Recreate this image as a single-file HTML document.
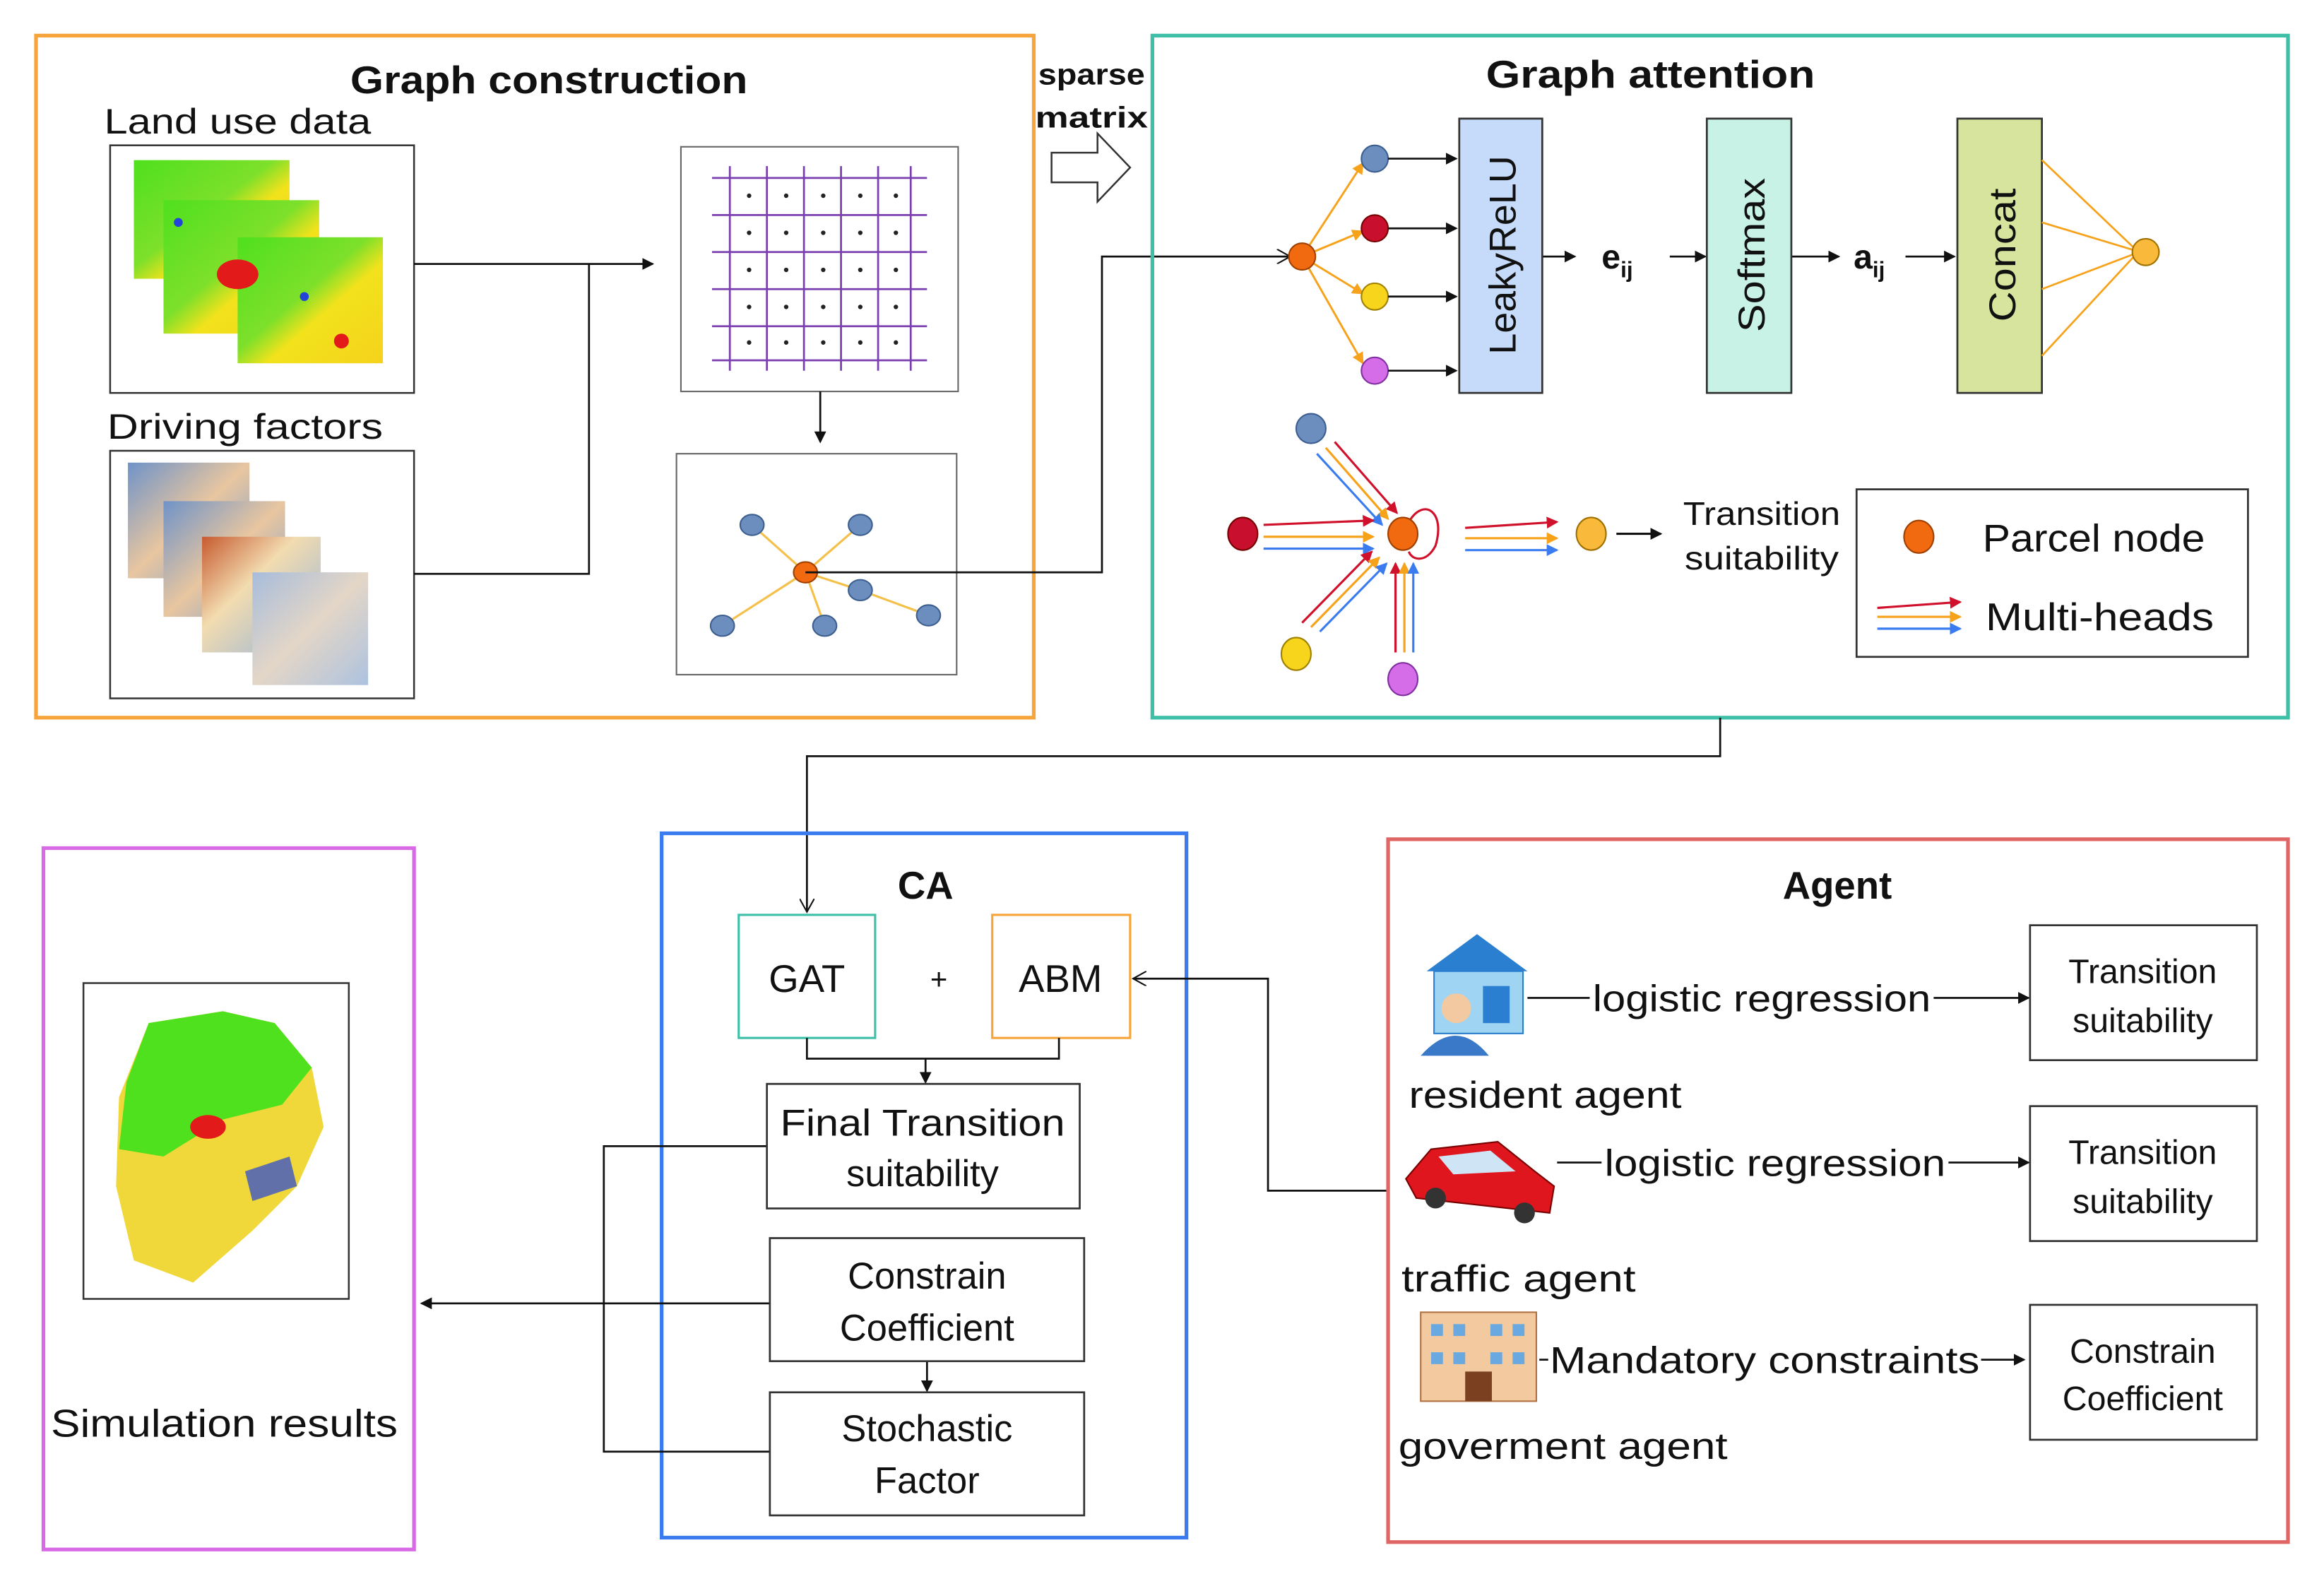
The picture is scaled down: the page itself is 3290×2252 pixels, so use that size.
<!DOCTYPE html>
<html><head><meta charset="utf-8"><style>
html,body{margin:0;padding:0;background:#fff;}
svg{display:block;}
text{font-family:"Liberation Sans","DejaVu Sans",sans-serif;fill:#111;}
</style></head><body>
<svg width="3290" height="2252" viewBox="0 0 1567 1073" xmlns="http://www.w3.org/2000/svg">
<defs>
<marker id="a" markerWidth="8" markerHeight="8" refX="7" refY="4" orient="auto" markerUnits="userSpaceOnUse"><path d="M0,0 L8,4 L0,8 z" fill="#111"/></marker>
<marker id="ao" markerWidth="10" markerHeight="10" refX="9" refY="5" orient="auto" markerUnits="userSpaceOnUse"><path d="M0,0 L9,5 L0,10" fill="none" stroke="#111" stroke-width="1"/></marker>
<marker id="ar" markerWidth="8" markerHeight="8" refX="7" refY="4" orient="auto" markerUnits="userSpaceOnUse"><path d="M0,0 L8,4 L0,8 z" fill="#d0112b"/></marker>
<marker id="ay" markerWidth="8" markerHeight="8" refX="7" refY="4" orient="auto" markerUnits="userSpaceOnUse"><path d="M0,0 L8,4 L0,8 z" fill="#f7a21b"/></marker>
<marker id="ab" markerWidth="8" markerHeight="8" refX="7" refY="4" orient="auto" markerUnits="userSpaceOnUse"><path d="M0,0 L8,4 L0,8 z" fill="#3a7cf0"/></marker>
<linearGradient id="lu" x1="0" y1="0" x2="1" y2="1"><stop offset="0" stop-color="#4fe01e"/><stop offset="0.45" stop-color="#7de02a"/><stop offset="0.6" stop-color="#f2e21c"/><stop offset="1" stop-color="#f5d21c"/></linearGradient>
<linearGradient id="df" x1="0" y1="0" x2="1" y2="1"><stop offset="0" stop-color="#6f93c8"/><stop offset="0.5" stop-color="#e8c6a0"/><stop offset="1" stop-color="#7a9ed0"/></linearGradient>
<linearGradient id="df2" x1="0" y1="0" x2="1" y2="1"><stop offset="0" stop-color="#c85a30"/><stop offset="0.4" stop-color="#f2dcb0"/><stop offset="1" stop-color="#8fb0dc"/></linearGradient>
</defs>

<!-- Graph construction -->
<rect x="24" y="24" width="673" height="460" fill="none" stroke="#f7a43a" stroke-width="2.5"/>
<text x="370" y="63" font-size="26" font-weight="bold" text-anchor="middle" textLength="268" lengthAdjust="spacingAndGlyphs">Graph construction</text>
<text x="70" y="90" font-size="24" textLength="180" lengthAdjust="spacingAndGlyphs">Land use data</text>
<rect x="74" y="98" width="205" height="167" fill="#fff" stroke="#333" stroke-width="1.2"/>
<rect x="90" y="108" width="105" height="80" fill="url(#lu)"/>
<rect x="110" y="135" width="105" height="90" fill="url(#lu)"/>
<rect x="160" y="160" width="98" height="85" fill="url(#lu)"/>
<ellipse cx="160" cy="185" rx="14" ry="10" fill="#e21a1a"/>
<circle cx="230" cy="230" r="5" fill="#e21a1a"/><circle cx="205" cy="200" r="3" fill="#2344d8"/><circle cx="120" cy="150" r="3" fill="#2344d8"/>
<text x="72" y="296" font-size="24" textLength="186" lengthAdjust="spacingAndGlyphs">Driving factors</text>
<rect x="74" y="304" width="205" height="167" fill="#fff" stroke="#333" stroke-width="1.2"/>
<rect x="86" y="312" width="82" height="78" fill="url(#df)"/>
<rect x="110" y="338" width="82" height="78" fill="url(#df)"/>
<rect x="136" y="362" width="80" height="78" fill="url(#df2)"/>
<rect x="170" y="386" width="78" height="76" fill="#dfe6ee"/>
<rect x="170" y="386" width="78" height="76" fill="url(#df)" opacity="0.5"/>
<!-- grid -->
<rect x="459" y="99" width="187" height="165" fill="#fff" stroke="#666" stroke-width="1"/>
<g stroke="#7b3fb0" stroke-width="1.3">
<line x1="480" y1="120" x2="625" y2="120"/><line x1="480" y1="145" x2="625" y2="145"/><line x1="480" y1="170" x2="625" y2="170"/><line x1="480" y1="195" x2="625" y2="195"/><line x1="480" y1="220" x2="625" y2="220"/><line x1="480" y1="243" x2="625" y2="243"/>
<line x1="492" y1="112" x2="492" y2="250"/><line x1="517" y1="112" x2="517" y2="250"/><line x1="542" y1="112" x2="542" y2="250"/><line x1="567" y1="112" x2="567" y2="250"/><line x1="592" y1="112" x2="592" y2="250"/><line x1="614" y1="112" x2="614" y2="250"/>
</g>
<g fill="#222"><circle cx="505" cy="132" r="1.5"/><circle cx="530" cy="132" r="1.5"/><circle cx="555" cy="132" r="1.5"/><circle cx="580" cy="132" r="1.5"/><circle cx="604" cy="132" r="1.5"/>
<circle cx="505" cy="157" r="1.5"/><circle cx="530" cy="157" r="1.5"/><circle cx="555" cy="157" r="1.5"/><circle cx="580" cy="157" r="1.5"/><circle cx="604" cy="157" r="1.5"/>
<circle cx="505" cy="182" r="1.5"/><circle cx="530" cy="182" r="1.5"/><circle cx="555" cy="182" r="1.5"/><circle cx="580" cy="182" r="1.5"/><circle cx="604" cy="182" r="1.5"/>
<circle cx="505" cy="207" r="1.5"/><circle cx="530" cy="207" r="1.5"/><circle cx="555" cy="207" r="1.5"/><circle cx="580" cy="207" r="1.5"/><circle cx="604" cy="207" r="1.5"/>
<circle cx="505" cy="231" r="1.5"/><circle cx="530" cy="231" r="1.5"/><circle cx="555" cy="231" r="1.5"/><circle cx="580" cy="231" r="1.5"/><circle cx="604" cy="231" r="1.5"/></g>
<!-- graph -->
<rect x="456" y="306" width="189" height="149" fill="#fff" stroke="#666" stroke-width="1"/>
<g stroke="#f5c04a" stroke-width="1.5">
<line x1="543" y1="386" x2="507" y2="354"/><line x1="543" y1="386" x2="580" y2="354"/><line x1="543" y1="386" x2="487" y2="422"/><line x1="543" y1="386" x2="556" y2="422"/><line x1="543" y1="386" x2="580" y2="398"/><line x1="580" y1="398" x2="626" y2="415"/></g>
<g fill="#6c8ebf" stroke="#3d5f90" stroke-width="1"><ellipse cx="507" cy="354" rx="8" ry="7"/><ellipse cx="580" cy="354" rx="8" ry="7"/><ellipse cx="487" cy="422" rx="8" ry="7"/><ellipse cx="556" cy="422" rx="8" ry="7"/><ellipse cx="580" cy="398" rx="8" ry="7"/><ellipse cx="626" cy="415" rx="8" ry="7"/></g>
<ellipse cx="543" cy="386" rx="8" ry="7" fill="#f26a10" stroke="#a04000"/>
<!-- connectors gc -->
<g stroke="#111" stroke-width="1.3" fill="none">
<line x1="279" y1="178" x2="440" y2="178" marker-end="url(#a)"/>
<polyline points="279,387 397,387 397,178"/>
<line x1="553" y1="264" x2="553" y2="298" marker-end="url(#a)"/>
<polyline points="543,386 743,386 743,173 870,173" marker-end="url(#ao)"/>
</g>
<text x="700" y="57" font-size="20" font-weight="bold" textLength="72" lengthAdjust="spacingAndGlyphs">sparse</text>
<text x="698" y="86" font-size="20" font-weight="bold" textLength="76" lengthAdjust="spacingAndGlyphs">matrix</text>
<path d="M709,103 L740,103 L740,90 L762,113 L740,136 L740,123 L709,123 Z" fill="#fff" stroke="#333" stroke-width="1.2"/>

<!-- Graph attention -->
<rect x="777" y="24" width="766" height="460" fill="none" stroke="#3dbfa8" stroke-width="2.5"/>
<text x="1113" y="59" font-size="26" font-weight="bold" text-anchor="middle" textLength="222" lengthAdjust="spacingAndGlyphs">Graph attention</text>
<g stroke="#f7a21b" stroke-width="1.4" fill="none">
<line x1="878" y1="173" x2="919" y2="110" marker-end="url(#ay)"/><line x1="878" y1="173" x2="919" y2="156" marker-end="url(#ay)"/><line x1="878" y1="173" x2="919" y2="198" marker-end="url(#ay)"/><line x1="878" y1="173" x2="919" y2="245" marker-end="url(#ay)"/></g>
<ellipse cx="878" cy="173" rx="9" ry="9" fill="#f26a10" stroke="#a04000"/>
<ellipse cx="927" cy="107" rx="9" ry="9" fill="#6c8ebf" stroke="#3d5f90"/>
<ellipse cx="927" cy="154" rx="9" ry="9" fill="#c8102e" stroke="#700"/>
<ellipse cx="927" cy="200" rx="9" ry="9" fill="#f7d51c" stroke="#a08000"/>
<ellipse cx="927" cy="250" rx="9" ry="9" fill="#d66de8" stroke="#8030a0"/>
<g stroke="#111" stroke-width="1.3">
<line x1="936" y1="107" x2="982" y2="107" marker-end="url(#a)"/><line x1="936" y1="154" x2="982" y2="154" marker-end="url(#a)"/><line x1="936" y1="200" x2="982" y2="200" marker-end="url(#a)"/><line x1="936" y1="250" x2="982" y2="250" marker-end="url(#a)"/>
<line x1="1040" y1="173" x2="1062" y2="173" marker-end="url(#a)"/><line x1="1126" y1="173" x2="1150" y2="173" marker-end="url(#a)"/><line x1="1208" y1="173" x2="1240" y2="173" marker-end="url(#a)"/><line x1="1285" y1="173" x2="1318" y2="173" marker-end="url(#a)"/></g>
<rect x="984" y="80" width="56" height="185" fill="#c6dafa" stroke="#333" stroke-width="1.3"/>
<text transform="translate(1022,172) rotate(-90)" font-size="25" text-anchor="middle" textLength="134" lengthAdjust="spacingAndGlyphs">LeakyReLU</text>
<text x="1080" y="181" font-size="23" font-weight="bold">e<tspan font-size="15" dy="6">ij</tspan></text>
<rect x="1151" y="80" width="57" height="185" fill="#c9f2e6" stroke="#333" stroke-width="1.3"/>
<text transform="translate(1190,172) rotate(-90)" font-size="25" text-anchor="middle" textLength="104" lengthAdjust="spacingAndGlyphs">Softmax</text>
<text x="1250" y="181" font-size="23" font-weight="bold">a<tspan font-size="15" dy="6">ij</tspan></text>
<rect x="1320" y="80" width="57" height="185" fill="#d6e49e" stroke="#333" stroke-width="1.3"/>
<text transform="translate(1359,172) rotate(-90)" font-size="25" text-anchor="middle" textLength="90" lengthAdjust="spacingAndGlyphs">Concat</text>
<g stroke="#f7a21b" stroke-width="1.3"><line x1="1377" y1="108" x2="1440" y2="168"/><line x1="1377" y1="150" x2="1440" y2="169"/><line x1="1377" y1="195" x2="1440" y2="171"/><line x1="1377" y1="240" x2="1440" y2="172"/></g>
<ellipse cx="1447" cy="170" rx="9" ry="9" fill="#f9b93a" stroke="#a07000"/>
<!-- multihead -->
<g stroke-width="1.5" fill="none">
<line x1="900" y1="298" x2="942" y2="346" stroke="#d0112b" marker-end="url(#ar)"/><line x1="894" y1="302" x2="936" y2="350" stroke="#f7a21b" marker-end="url(#ay)"/><line x1="888" y1="306" x2="932" y2="354" stroke="#3a7cf0" marker-end="url(#ab)"/>
<line x1="852" y1="354" x2="926" y2="351" stroke="#d0112b" marker-end="url(#ar)"/><line x1="852" y1="362" x2="926" y2="362" stroke="#f7a21b" marker-end="url(#ay)"/><line x1="852" y1="370" x2="926" y2="370" stroke="#3a7cf0" marker-end="url(#ab)"/>
<line x1="878" y1="420" x2="925" y2="372" stroke="#d0112b" marker-end="url(#ar)"/><line x1="884" y1="423" x2="930" y2="376" stroke="#f7a21b" marker-end="url(#ay)"/><line x1="890" y1="426" x2="935" y2="380" stroke="#3a7cf0" marker-end="url(#ab)"/>
<line x1="941" y1="440" x2="941" y2="380" stroke="#d0112b" marker-end="url(#ar)"/><line x1="947" y1="440" x2="947" y2="380" stroke="#f7a21b" marker-end="url(#ay)"/><line x1="953" y1="440" x2="953" y2="380" stroke="#3a7cf0" marker-end="url(#ab)"/>
<line x1="988" y1="356" x2="1050" y2="352" stroke="#d0112b" marker-end="url(#ar)"/><line x1="988" y1="363" x2="1050" y2="363" stroke="#f7a21b" marker-end="url(#ay)"/><line x1="988" y1="371" x2="1050" y2="371" stroke="#3a7cf0" marker-end="url(#ab)"/>
<path d="M950,352 C960,335 975,345 968,368 C962,380 952,378 950,372" stroke="#d0112b"/>
</g>
<ellipse cx="884" cy="289" rx="10" ry="10" fill="#6c8ebf" stroke="#3d5f90"/>
<ellipse cx="838" cy="360" rx="10" ry="11" fill="#c8102e" stroke="#700"/>
<ellipse cx="946" cy="360" rx="10" ry="11" fill="#f26a10" stroke="#a04000"/>
<ellipse cx="874" cy="441" rx="10" ry="11" fill="#f7d51c" stroke="#a08000"/>
<ellipse cx="946" cy="458" rx="10" ry="11" fill="#d66de8" stroke="#8030a0"/>
<ellipse cx="1073" cy="360" rx="10" ry="11" fill="#f9b93a" stroke="#a07000"/>
<line x1="1090" y1="360" x2="1120" y2="360" stroke="#111" stroke-width="1.5" marker-end="url(#a)"/>
<text x="1188" y="354" font-size="22" text-anchor="middle" textLength="106" lengthAdjust="spacingAndGlyphs">Transition</text>
<text x="1188" y="384" font-size="22" text-anchor="middle" textLength="104" lengthAdjust="spacingAndGlyphs">suitability</text>
<rect x="1252" y="330" width="264" height="113" fill="#fff" stroke="#333" stroke-width="1.3"/>
<ellipse cx="1294" cy="362" rx="10" ry="11" fill="#f26a10" stroke="#a04000"/>
<text x="1337" y="372" font-size="26" textLength="150" lengthAdjust="spacingAndGlyphs">Parcel node</text>
<g stroke-width="1.5"><line x1="1266" y1="410" x2="1322" y2="406" stroke="#d0112b" marker-end="url(#ar)"/><line x1="1266" y1="416" x2="1322" y2="416" stroke="#f7a21b" marker-end="url(#ay)"/><line x1="1266" y1="424" x2="1322" y2="424" stroke="#3a7cf0" marker-end="url(#ab)"/></g>
<text x="1339" y="425" font-size="26" textLength="154" lengthAdjust="spacingAndGlyphs">Multi-heads</text>

<!-- GA to CA -->
<polyline points="1160,484 1160,510 544,510 544,615" fill="none" stroke="#111" stroke-width="1.3" marker-end="url(#ao)"/>

<!-- Simulation results -->
<rect x="29" y="572" width="250" height="473" fill="none" stroke="#d86ae6" stroke-width="2.5"/>
<rect x="56" y="663" width="179" height="213" fill="#fff" stroke="#333" stroke-width="1.2"/>
<path d="M100,690 L150,682 L185,690 L210,720 L218,760 L200,800 L170,830 L130,865 L90,850 L78,800 L80,740 Z" fill="#f0d83a"/>
<path d="M100,690 L150,682 L185,690 L210,720 L190,745 L150,755 L110,780 L80,775 L85,730 Z" fill="#4fe01e"/>
<ellipse cx="140" cy="760" rx="12" ry="8" fill="#e21a1a"/>
<path d="M165,790 L195,780 L200,800 L170,810 Z" fill="#2344d8" opacity="0.7"/>
<text x="151" y="969" font-size="26" text-anchor="middle" textLength="234" lengthAdjust="spacingAndGlyphs">Simulation results</text>

<!-- CA -->
<rect x="446" y="562" width="354" height="475" fill="none" stroke="#3a7cf0" stroke-width="2.5"/>
<text x="624" y="606" font-size="26" font-weight="bold" text-anchor="middle">CA</text>
<rect x="498" y="617" width="92" height="83" fill="#fff" stroke="#3dbfa8" stroke-width="1.5"/>
<text x="544" y="669" font-size="26" text-anchor="middle">GAT</text>
<text x="633" y="667" font-size="20" text-anchor="middle">+</text>
<rect x="669" y="617" width="93" height="83" fill="#fff" stroke="#f7a43a" stroke-width="1.5"/>
<text x="715" y="669" font-size="26" text-anchor="middle">ABM</text>
<g stroke="#111" stroke-width="1.3" fill="none">
<polyline points="544,700 544,714 714,714 714,700"/>
<line x1="624" y1="714" x2="624" y2="730" marker-end="url(#a)"/>
<line x1="625" y1="918" x2="625" y2="938" marker-end="url(#a)"/>
<polyline points="517,773 407,773 407,979 519,979"/>
<line x1="519" y1="879" x2="284" y2="879" marker-end="url(#a)"/>
<polyline points="936,803 855,803 855,660 764,660" marker-end="url(#ao)"/>
</g>
<rect x="517" y="731" width="211" height="84" fill="#fff" stroke="#333" stroke-width="1.3"/>
<text x="622" y="766" font-size="25" text-anchor="middle" textLength="192" lengthAdjust="spacingAndGlyphs">Final Transition</text>
<text x="622" y="800" font-size="25" text-anchor="middle">suitability</text>
<rect x="519" y="835" width="212" height="83" fill="#fff" stroke="#333" stroke-width="1.3"/>
<text x="625" y="869" font-size="25" text-anchor="middle">Constrain</text>
<text x="625" y="904" font-size="25" text-anchor="middle">Coefficient</text>
<rect x="519" y="939" width="212" height="83" fill="#fff" stroke="#333" stroke-width="1.3"/>
<text x="625" y="972" font-size="25" text-anchor="middle">Stochastic</text>
<text x="625" y="1007" font-size="25" text-anchor="middle">Factor</text>

<!-- Agent -->
<rect x="936" y="566" width="607" height="474" fill="none" stroke="#e06666" stroke-width="2.5"/>
<text x="1239" y="606" font-size="26" font-weight="bold" text-anchor="middle">Agent</text>
<!-- resident icon -->
<path d="M962,655 L996,630 L1030,655 Z" fill="#2a7fd0"/>
<rect x="967" y="655" width="60" height="42" fill="#9fd4f2" stroke="#2a7fd0"/>
<rect x="1000" y="665" width="18" height="25" fill="#2a7fd0"/>
<circle cx="982" cy="680" r="10" fill="#f2c9a0"/>
<path d="M958,712 Q982,685 1004,712 Z" fill="#3a78c8"/>
<text x="950" y="747" font-size="25" textLength="184" lengthAdjust="spacingAndGlyphs">resident agent</text>
<!-- car -->
<path d="M948,795 L965,775 L1010,770 L1035,790 L1048,800 L1045,818 L955,808 Z" fill="#e0161e" stroke="#700" stroke-width="1"/>
<path d="M970,780 L1005,776 L1022,790 L980,792 Z" fill="#cfe4f4"/>
<circle cx="968" cy="808" r="7" fill="#333"/><circle cx="1028" cy="818" r="7" fill="#333"/>
<text x="945" y="871" font-size="25" textLength="158" lengthAdjust="spacingAndGlyphs">traffic agent</text>
<!-- gov -->
<rect x="958" y="885" width="78" height="60" fill="#f3c9a0" stroke="#b07040"/>
<g fill="#6aa8e0"><rect x="965" y="893" width="8" height="8"/><rect x="980" y="893" width="8" height="8"/><rect x="1005" y="893" width="8" height="8"/><rect x="1020" y="893" width="8" height="8"/><rect x="965" y="912" width="8" height="8"/><rect x="980" y="912" width="8" height="8"/><rect x="1005" y="912" width="8" height="8"/><rect x="1020" y="912" width="8" height="8"/></g>
<rect x="988" y="925" width="18" height="20" fill="#7a4020"/>
<text x="943" y="984" font-size="25" textLength="222" lengthAdjust="spacingAndGlyphs">goverment agent</text>
<g stroke="#111" stroke-width="1.3">
<line x1="1030" y1="673" x2="1072" y2="673"/><line x1="1304" y1="673" x2="1368" y2="673" marker-end="url(#a)"/>
<line x1="1050" y1="784" x2="1080" y2="784"/><line x1="1314" y1="784" x2="1368" y2="784" marker-end="url(#a)"/>
<line x1="1038" y1="917" x2="1044" y2="917"/><line x1="1336" y1="917" x2="1365" y2="917" marker-end="url(#a)"/></g>
<text x="1074" y="682" font-size="25" textLength="228" lengthAdjust="spacingAndGlyphs">logistic regression</text>
<text x="1082" y="793" font-size="25" textLength="230" lengthAdjust="spacingAndGlyphs">logistic regression</text>
<text x="1045" y="926" font-size="25" textLength="290" lengthAdjust="spacingAndGlyphs">Mandatory constraints</text>
<rect x="1369" y="624" width="153" height="91" fill="#fff" stroke="#333" stroke-width="1.3"/>
<text x="1445" y="663" font-size="23" text-anchor="middle" fill="#333">Transition</text>
<text x="1445" y="696" font-size="23" text-anchor="middle" fill="#333">suitability</text>
<rect x="1369" y="746" width="153" height="91" fill="#fff" stroke="#333" stroke-width="1.3"/>
<text x="1445" y="785" font-size="23" text-anchor="middle" fill="#333">Transition</text>
<text x="1445" y="818" font-size="23" text-anchor="middle" fill="#333">suitability</text>
<rect x="1369" y="880" width="153" height="91" fill="#fff" stroke="#333" stroke-width="1.3"/>
<text x="1445" y="919" font-size="23" text-anchor="middle" fill="#333">Constrain</text>
<text x="1445" y="951" font-size="23" text-anchor="middle" fill="#333">Coefficient</text>
</svg>
</body></html>
